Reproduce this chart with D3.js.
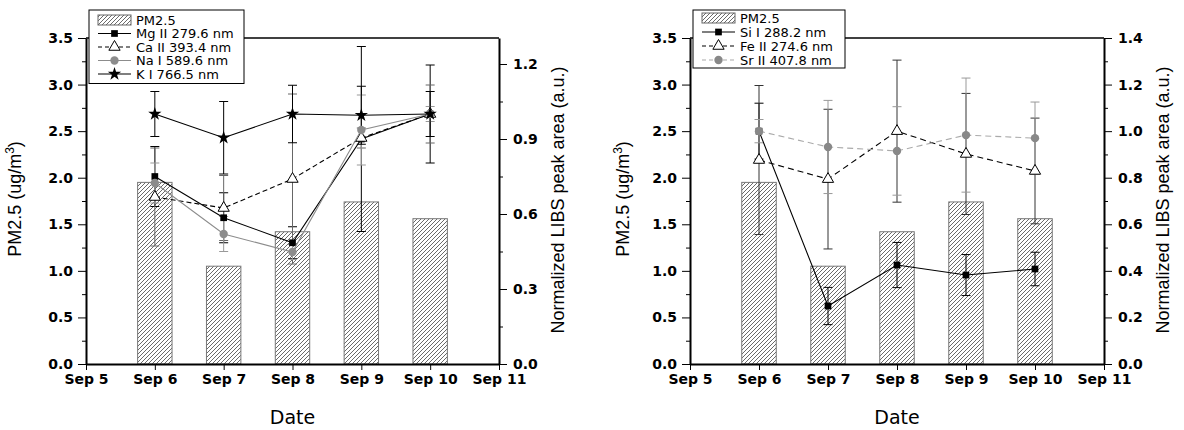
<!DOCTYPE html>
<html>
<head>
<meta charset="utf-8">
<script src="https://cdn.jsdelivr.net/npm/d3@7"></script>
<style>
  body { margin: 0; background: #fff; }
  svg { display: block; }
</style>
</head>
<body>
<script>
// data
const days = [6, 7, 8, 9, 10];
const xTicks = [5, 6, 7, 8, 9, 10, 11];
const xTickLabels = ["Sep 5", "Sep 6", "Sep 7", "Sep 8", "Sep 9", "Sep 10", "Sep 11"];
const pmTicks = [0, 0.5, 1, 1.5, 2, 2.5, 3, 3.5];
const libsTicksA = [0, 0.3, 0.6, 0.9, 1.2];
const libsTicksB = [0, 0.2, 0.4, 0.6, 0.8, 1.0, 1.2, 1.4];

// PM2.5 bars (ug/m3), same in both panels
const pm25 = [1.95, 1.05, 1.42, 1.74, 1.56];

// left panel, normalized peak area
const mgII = [0.75, 0.585, 0.485, 0.9, 1.0];
const mgErr = [0.12, 0.1, 0.064, 0.37, 0.196];
const caII = [0.668, 0.624, 0.74, 0.904, 1.0];
const caErr = [0.196, 0.13, 0.34, 0.04, 0.116];
const naI = [0.724, 0.52, 0.448, 0.936, 1.0];
const naErr = [0.08, 0.07, 0.03, 0.14, 0.03];
const kI = [1.0, 0.905, 1.0, 0.995, 1.0];
const kErr = [0.09, 0.145, 0.115, 0.116, 0.09];

// right panel
const siI = [1.0, 0.249, 0.425, 0.382, 0.408];
const siErr = [0.12, 0.08, 0.097, 0.088, 0.072];
const feII = [0.876, 0.794, 1.0, 0.902, 0.829];
const feErr = [0.32, 0.3, 0.305, 0.26, 0.227];
const srII = [1.0, 0.932, 0.915, 0.983, 0.97];
const srErr = [0.05, 0.2, 0.19, 0.245, 0.155];

const width = 1184,
  height = 430,
  plotTop = 38,
  plotBottom = 364;

const svg = d3
  .select("body")
  .append("svg")
  .attr("width", width)
  .attr("height", height);

// hatch for the bars
const defs = svg.append("defs");
defs
  .append("pattern")
  .attr("id", "hatch")
  .attr("patternUnits", "userSpaceOnUse")
  .attr("width", 4)
  .attr("height", 4)
  .append("path")
  .attr("d", "M-1,1 l2,-2 M0,4 l4,-4 M3,5 l2,-2")
  .attr("stroke", "#444")
  .attr("stroke-width", 0.8);

const panels = [
  {
    left: 86,
    right: 499,
    rightMax: 1.304,
    rightTicks: libsTicksA,
    yTitleX: 21,
    rTitleX: 564,
    legend: { x: 89, y: 10, w: 155, rowH: 13.5, first: 10, pad: 6 },
    series: [
      { name: "Mg II 279.6 nm", values: mgII, err: mgErr, symbol: d3.symbolSquare, size: 45, color: "#000", fill: "#000", dash: null, errColor: "#000" },
      { name: "Ca II 393.4 nm", values: caII, err: caErr, symbol: d3.symbolTriangle, size: 55, color: "#000", fill: "#fff", dash: "5,3", errColor: "#666" },
      { name: "Na I 589.6 nm", values: naI, err: naErr, symbol: d3.symbolCircle, size: 55, color: "#8c8c8c", fill: "#8c8c8c", dash: null, errColor: "#999" },
      { name: "K I 766.5 nm", values: kI, err: kErr, symbol: d3.symbolStar, size: 55, color: "#000", fill: "#000", dash: null, errColor: "#000" },
    ],
  },
  {
    left: 690,
    right: 1104,
    rightMax: 1.4,
    rightTicks: libsTicksB,
    yTitleX: 629,
    rTitleX: 1169,
    legend: { x: 693, y: 10, w: 152, rowH: 14, first: 8, pad: 2 },
    series: [
      { name: "Si I 288.2 nm", values: siI, err: siErr, symbol: d3.symbolSquare, size: 45, color: "#000", fill: "#000", dash: null, errColor: "#000" },
      { name: "Fe II 274.6 nm", values: feII, err: feErr, symbol: d3.symbolTriangle, size: 55, color: "#000", fill: "#fff", dash: "6,4", errColor: "#333" },
      { name: "Sr II 407.8 nm", values: srII, err: srErr, symbol: d3.symbolCircle, size: 55, color: "#aaa", fill: "#888", dash: "6,4", errColor: "#999" },
    ],
  },
];

const midTicks = (ticks) =>
  ticks.slice(1).map((t, i) => (t + ticks[i]) / 2);

const drawPanel = (p) => {
  const g = svg.append("g");

  const x = d3.scaleLinear().domain([5, 11]).range([p.left, p.right]);
  const yL = d3.scaleLinear().domain([0, 3.5]).range([plotBottom, plotTop]);
  const yR = d3.scaleLinear().domain([0, p.rightMax]).range([plotBottom, plotTop]);

  // bars
  g.selectAll(".bar")
    .data(days)
    .enter()
    .append("rect")
    .attr("class", "bar")
    .attr("x", (d) => x(d - 0.25))
    .attr("width", (d) => x(d + 0.25) - x(d - 0.25))
    .attr("y", (d, i) => yL(pm25[i]))
    .attr("height", (d, i) => yL(0) - yL(pm25[i]))
    .attr("fill", "url(#hatch)")
    .attr("stroke", "#777")
    .attr("stroke-width", 1);

  // error bars
  p.series.forEach((s) => {
    const eg = g.append("g").attr("stroke", s.errColor).attr("stroke-width", 1);
    days.forEach((d, i) => {
      const cx = x(d),
        hi = yR(s.values[i] + s.err[i]),
        lo = yR(s.values[i] - s.err[i]);
      eg.append("line").attr("x1", cx).attr("x2", cx).attr("y1", hi).attr("y2", lo);
      eg.append("line").attr("x1", cx - 4.5).attr("x2", cx + 4.5).attr("y1", hi).attr("y2", hi);
      eg.append("line").attr("x1", cx - 4.5).attr("x2", cx + 4.5).attr("y1", lo).attr("y2", lo);
    });
  });

  // lines + markers
  p.series.forEach((s) => {
    const line = d3
      .line()
      .x((d) => x(d))
      .y((d, i) => yR(s.values[i]));
    g.append("path")
      .datum(days)
      .attr("d", line)
      .attr("fill", "none")
      .attr("stroke", s.color)
      .attr("stroke-width", 1.1)
      .attr("stroke-dasharray", s.dash);

    g.selectAll(null)
      .data(days)
      .enter()
      .append("path")
      .attr("transform", (d, i) => `translate(${x(d)},${yR(s.values[i])})`)
      .attr("d", d3.symbol().type(s.symbol).size(s.size))
      .attr("fill", s.fill)
      .attr("stroke", s.fill === "#fff" ? "#000" : "none")
      .attr("stroke-width", 1);
  });

  // axes
  const fontTick = (sel) =>
    sel
      .selectAll("text")
      .attr("font-family", "DejaVu Sans")
      .attr("font-weight", "bold")
      .attr("font-size", 14)
      .attr("fill", "#000");

  const xAxis = d3
    .axisBottom(x)
    .tickValues(xTicks)
    .tickFormat((d, i) => xTickLabels[i])
    .tickSize(6)
    .tickSizeOuter(0)
    .tickPadding(4);
  g.append("g")
    .attr("transform", `translate(0,${plotBottom})`)
    .call(xAxis)
    .call(fontTick)
    .call((a) => a.select(".domain").attr("stroke-width", 2));

  const yAxis = d3
    .axisLeft(yL)
    .tickValues(pmTicks)
    .tickFormat(d3.format(".1f"))
    .tickSize(8)
    .tickSizeOuter(0)
    .tickPadding(5);
  g.append("g")
    .attr("transform", `translate(${p.left},0)`)
    .call(yAxis)
    .call(fontTick)
    .call((a) => a.select(".domain").attr("stroke-width", 2));
  g.append("g")
    .attr("transform", `translate(${p.left},0)`)
    .call(d3.axisLeft(yL).tickValues(midTicks(pmTicks)).tickFormat("").tickSize(4).tickSizeOuter(0))
    .call((a) => a.select(".domain").remove());

  const rAxis = d3
    .axisRight(yR)
    .tickValues(p.rightTicks)
    .tickFormat(d3.format(".1f"))
    .tickSize(8)
    .tickSizeOuter(0)
    .tickPadding(6);
  g.append("g")
    .attr("transform", `translate(${p.right},0)`)
    .call(rAxis)
    .call(fontTick)
    .call((a) => a.select(".domain").attr("stroke-width", 2));
  g.append("g")
    .attr("transform", `translate(${p.right},0)`)
    .call(d3.axisRight(yR).tickValues(midTicks(p.rightTicks)).tickFormat("").tickSize(4).tickSizeOuter(0))
    .call((a) => a.select(".domain").remove());

  // top frame line
  g.append("line")
    .attr("x1", p.left)
    .attr("x2", p.right)
    .attr("y1", plotTop)
    .attr("y2", plotTop)
    .attr("stroke", "#000")
    .attr("stroke-width", 1.5);

  // titles
  const yt = g
    .append("text")
    .attr("transform", `translate(${p.yTitleX},199) rotate(-90)`)
    .attr("text-anchor", "middle")
    .attr("font-family", "Liberation Sans")
    .attr("font-size", 18)
    .text("PM2.5 (ug/m");
  yt.append("tspan").attr("dy", -7).attr("font-size", 12).text("3");
  yt.append("tspan").attr("dy", 7).text(")");

  g.append("text")
    .attr("transform", `translate(${p.rTitleX},200) rotate(-90)`)
    .attr("text-anchor", "middle")
    .attr("font-family", "Liberation Sans")
    .attr("font-size", 18)
    .text("Normalized LIBS peak area (a.u.)");

  g.append("text")
    .attr("x", x(8))
    .attr("y", 424)
    .attr("text-anchor", "middle")
    .attr("font-family", "DejaVu Sans")
    .attr("font-size", 19)
    .text("Date");

  // legend
  const L = p.legend;
  const rows = p.series.length + 1;
  const lg = g.append("g").attr("transform", `translate(${L.x},${L.y})`);
  lg.append("rect")
    .attr("width", L.w)
    .attr("height", rows * L.rowH + L.pad)
    .attr("fill", "#fff")
    .attr("stroke", "#000")
    .attr("stroke-width", 1);

  const rowY = (i) => L.first + i * L.rowH;
  lg.append("rect")
    .attr("x", 9)
    .attr("y", rowY(0) - 5)
    .attr("width", 33)
    .attr("height", 10)
    .attr("fill", "url(#hatch)")
    .attr("stroke", "#666");
  lg.append("text")
    .attr("x", 47)
    .attr("y", rowY(0) + 4.5)
    .attr("font-family", "DejaVu Sans")
    .attr("font-size", 13)
    .text("PM2.5");

  p.series.forEach((s, i) => {
    const yy = rowY(i + 1);
    lg.append("line")
      .attr("x1", 9)
      .attr("x2", 42)
      .attr("y1", yy)
      .attr("y2", yy)
      .attr("stroke", s.color)
      .attr("stroke-width", 1.1)
      .attr("stroke-dasharray", s.dash ? "4,3" : null);
    lg.append("path")
      .attr("transform", `translate(25.5,${yy})`)
      .attr("d", d3.symbol().type(s.symbol).size(s.size))
      .attr("fill", s.fill)
      .attr("stroke", s.fill === "#fff" ? "#000" : "none");
    lg.append("text")
      .attr("x", 47)
      .attr("y", yy + 4.5)
      .attr("font-family", "DejaVu Sans")
      .attr("font-size", 13)
      .text(s.name);
  });
};

panels.forEach(drawPanel);
</script>
</body>
</html>
